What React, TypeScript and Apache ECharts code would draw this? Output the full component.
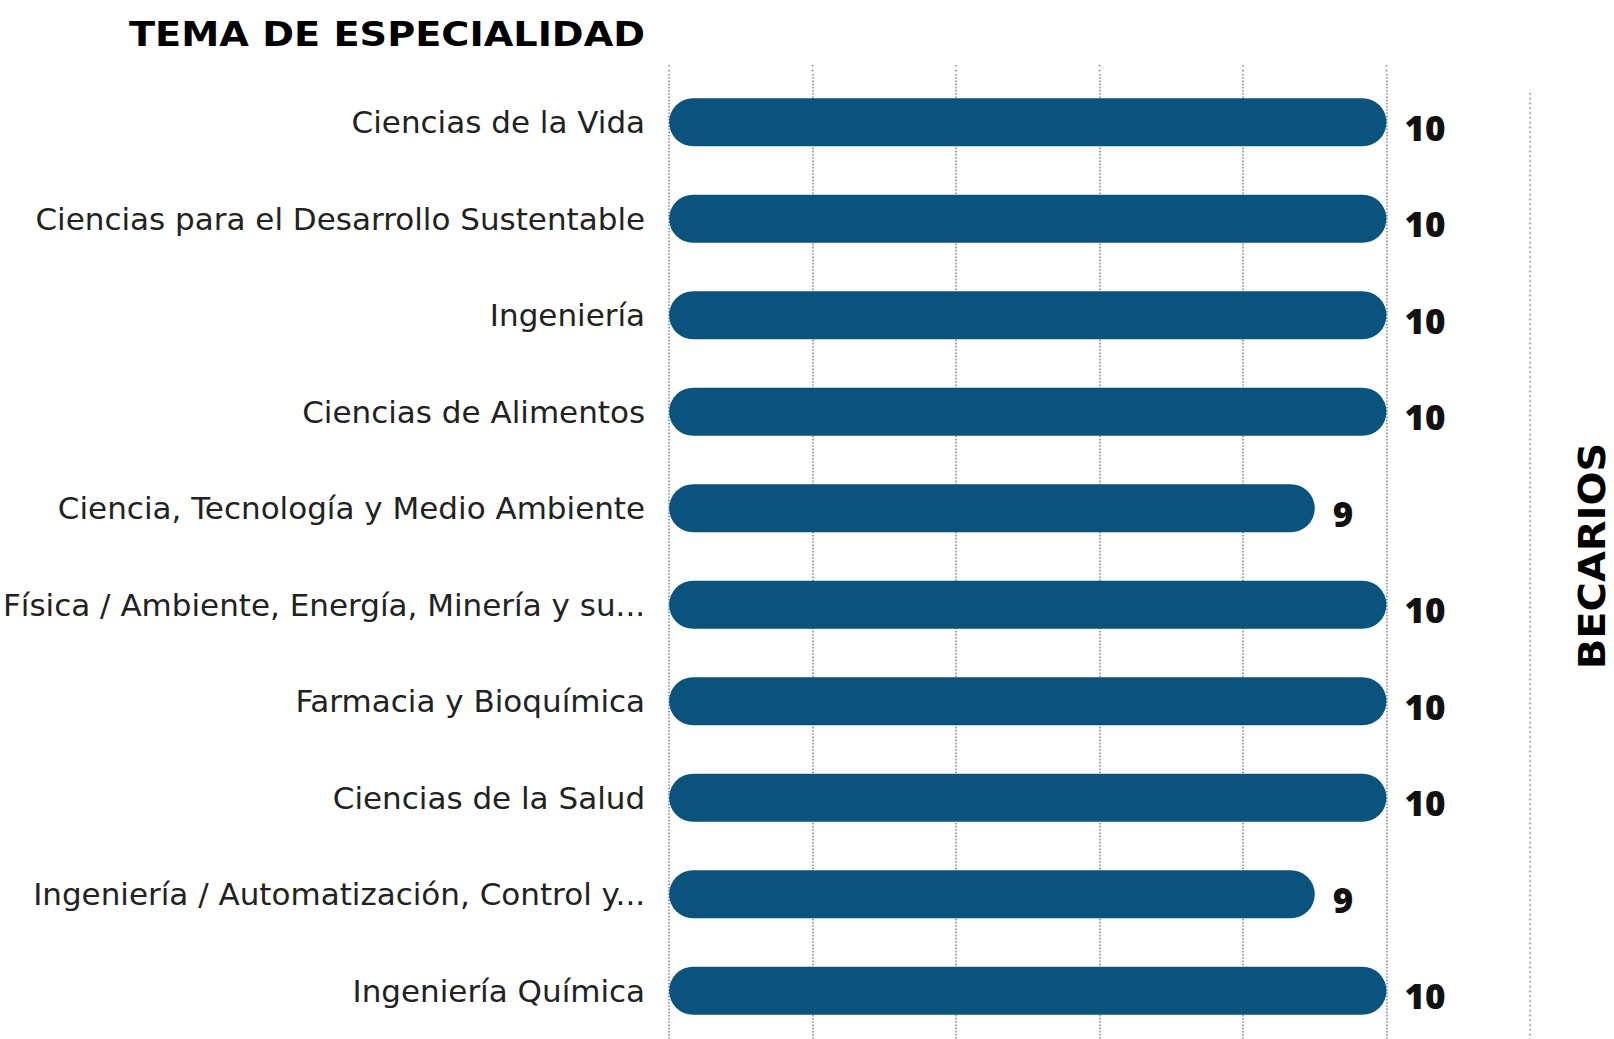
import React, { useEffect, useRef } from "react";
import * as echarts from "echarts";

const categories = [
  "Ciencias de la Vida",
  "Ciencias para el Desarrollo Sustentable",
  "Ingeniería",
  "Ciencias de Alimentos",
  "Ciencia, Tecnología y Medio Ambiente",
  "Física / Ambiente, Energía, Minería y su...",
  "Farmacia y Bioquímica",
  "Ciencias de la Salud",
  "Ingeniería / Automatización, Control y...",
  "Ingeniería Química",
];
const values = [10, 10, 10, 10, 9, 10, 10, 10, 9, 10];
const gridTicks = [0, 2, 4, 6, 8, 10];
const axisMin = 0;
const axisMax = 12;
const axisInterval = 2;
const titleText = "TEMA DE ESPECIALIDAD";
const axisTitle = "BECARIOS";

export default function App() {
  const ref = useRef<HTMLDivElement>(null);
  useEffect(() => {
    if (!ref.current) return;
    const chart = echarts.init(ref.current, undefined, { renderer: "svg" });
    const labelFont = "'DejaVu Sans', sans-serif";
    const boldFont = "'DejaVu Sans', sans-serif";
    const numFont = "'Open Sans', sans-serif";
    const gridStyle = { stroke: "#8a8a8a", lineWidth: 1.6, lineDash: [1.6, 3.2] };
    const gridTop = 74;
    chart.setOption({
      animation: false,
      backgroundColor: "#ffffff",
      grid: { left: 669, right: 84, top: gridTop, bottom: -3, containLabel: false },
      xAxis: {
        type: "value",
        min: axisMin,
        max: axisMax,
        interval: axisInterval,
        axisLabel: { show: false },
        axisLine: { show: false },
        axisTick: { show: false },
        splitLine: {
          show: true,
          showMaxLine: false,
          lineStyle: { type: "dotted", color: "#8a8a8a", width: 1.6 },
        },
      },
      yAxis: {
        type: "category",
        inverse: true,
        data: categories,
        axisLine: { show: false },
        axisTick: { show: false },
        axisLabel: {
          margin: 24,
          fontFamily: labelFont,
          fontSize: 31,
          color: "#222222",
          padding: [8, 0, 0, 0],
        },
      },
      series: [
        {
          type: "bar",
          data: values,
          barWidth: 48,
          itemStyle: { color: "#0a537d", borderRadius: 24 },
          label: {
            show: true,
            position: "right",
            distance: 18,
            offset: [0, 5],
            fontFamily: numFont,
            fontSize: 35,
            fontWeight: 800,
            color: "#111111",
          },
        },
      ],
    });
    const xMax = chart.convertToPixel({ xAxisIndex: 0 }, axisMax) as number;
    const extensions = gridTicks.map((t) => {
      const px = chart.convertToPixel({ xAxisIndex: 0 }, t) as number;
      return {
        type: "line",
        shape: { x1: px, y1: 65, x2: px, y2: gridTop },
        style: gridStyle,
        silent: true,
      };
    });
    chart.setOption({
      graphic: [
        ...extensions,
        {
          type: "line",
          shape: { x1: xMax, y1: 93, x2: xMax, y2: 1039 },
          style: gridStyle,
          silent: true,
        },
        {
          type: "text",
          x: 645,
          y: 34,
          scaleX: 1.16,
          style: {
            text: titleText,
            fontFamily: boldFont,
            fontSize: 33,
            fontWeight: 900,
            fill: "#000000",
            align: "right",
            verticalAlign: "middle",
          },
        },
        {
          type: "text",
          x: 1592,
          y: 556,
          rotation: Math.PI / 2,
          scaleX: 1.08,
          style: {
            text: axisTitle,
            fontFamily: boldFont,
            fontSize: 37,
            fontWeight: 900,
            fill: "#000000",
            align: "center",
            verticalAlign: "middle",
          },
        },
      ],
    });
    return () => chart.dispose();
  }, []);
  return (
    <div
      ref={ref}
      style={{ position: "fixed", left: 0, top: 0, width: 1614, height: 1039 }}
    />
  );
}
